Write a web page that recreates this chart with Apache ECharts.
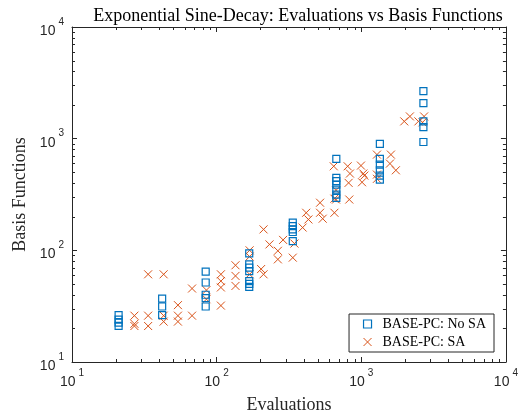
<!DOCTYPE html>
<html>
<head>
<meta charset="utf-8">
<script src="https://cdn.jsdelivr.net/npm/echarts@6/dist/echarts.min.js"></script>
<style>
html, body { margin: 0; padding: 0; background: #fff; }
#chart { width: 521px; height: 419px; }
</style>
</head>
<body>
<div id="chart"></div>
<script>
// evaluations vs basis functions
const noSaPoints = [
    [21, 26.3], [21, 24], [21, 22.5], [21, 21.1],
    [42, 37], [42, 31.4], [42, 26.3],
    [84, 64.5], [84, 51.5], [84, 40], [84, 37.3], [84, 31.4],
    [168, 94], [168, 75], [168, 70], [168, 65], [168, 53], [168, 50], [168, 47],
    [336, 177], [336, 165], [336, 154], [336, 146], [336, 121],
    [672, 660], [672, 446], [672, 416], [672, 388], [672, 350], [672, 316], [672, 295],
    [1344, 897], [1344, 659], [1344, 586], [1344, 521], [1344, 467], [1344, 430],
    [2688, 2667], [2688, 2083], [2688, 1428], [2688, 1271], [2688, 934]
];
const saPoints = [
    [27, 26], [27, 22], [27, 21],
    [33.6, 61], [33.6, 26], [33.6, 21],
    [43, 61], [43, 26], [43, 23],
    [54, 32.3], [54, 26], [54, 23],
    [67.6, 45.5], [67.6, 26],
    [85, 44], [85, 36.5],
    [107, 61], [107, 53], [107, 46.5], [107, 32],
    [135, 73.5], [135, 59], [135, 48],
    [169, 100], [169, 88], [169, 61],
    [203, 68], [211, 61], [211, 154],
    [232, 113], [265, 99], [265, 83], [288, 124],
    [336, 86], [345, 115],
    [393, 160], [416, 217], [431, 189],
    [519, 267], [519, 217], [541, 192],
    [652, 217], [652, 290], [645, 566], [669, 345], [669, 285],
    [805, 566], [835, 487], [817, 402], [826, 285],
    [995, 574], [1033, 487], [1050, 467], [1012, 407],
    [1283, 720], [1283, 477], [1283, 437],
    [1603, 720], [1578, 598], [1734, 521],
    [1982, 1428], [2168, 1582], [2483, 1428], [2718, 1582], [2650, 1400]
];
const seriesNames = ['BASE-PC: No SA', 'BASE-PC: SA'];
const axisRange = [10, 10000];

const axisColor = '#262626';
const blue = '#0072BD';
const orange = '#D95319';
const crossPath = 'path://M0,0L10,10M10,0L0,10';
const squarePath = 'path://M0,0L10,0L10,10L0,10Z';

const chart = echarts.init(document.getElementById('chart'));

function powLabel(value) {
    return '{b|10}{s|' + Math.round(Math.log10(value)) + '}';
}
const labelRich = {
    b: { fontSize: 14, fontFamily: 'Liberation Sans', color: axisColor, lineHeight: 22, verticalAlign: 'bottom' },
    s: { fontSize: 10, fontFamily: 'Liberation Sans', color: axisColor, verticalAlign: 'top', padding: [1, 0, 0, 3] }
};

function logAxis(position, showLabel, extra) {
    return Object.assign({
        type: 'log',
        logBase: 10,
        min: axisRange[0],
        max: axisRange[1],
        position: position,
        axisLine: { show: true, onZero: false, lineStyle: { color: axisColor, width: 1 } },
        axisTick: { show: true, inside: true, length: 5, lineStyle: { color: axisColor } },
        axisLabel: { show: showLabel, formatter: powLabel, rich: labelRich },
        splitLine: { show: false },
        minorTick: { show: false }
    }, extra || {});
}

chart.setOption({
    animation: false,
    backgroundColor: '#fff',
    title: {
        text: 'Exponential Sine-Decay: Evaluations vs Basis Functions',
        left: 293,
        textAlign: 'center',
        top: 2,
        textStyle: { fontFamily: 'Liberation Serif', fontSize: 18, fontWeight: 'normal', color: '#000' }
    },
    grid: { left: 72, right: 14, top: 27, bottom: 56 },
    xAxis: [
        logAxis('bottom', true, {
            name: 'Evaluations',
            nameLocation: 'middle',
            nameGap: 34,
            nameTextStyle: { fontFamily: 'Liberation Serif', fontSize: 18, color: axisColor },
            axisLabel: { show: true, formatter: powLabel, rich: labelRich, margin: 5 }
        }),
        logAxis('top', false)
    ],
    yAxis: [
        logAxis('left', true, {
            name: 'Basis Functions',
            nameLocation: 'middle',
            nameGap: 43,
            nameTextStyle: { fontFamily: 'Liberation Serif', fontSize: 18, color: axisColor },
            axisLabel: { show: true, formatter: powLabel, rich: labelRich, margin: 8 }
        }),
        logAxis('right', false)
    ],
    legend: {
        orient: 'vertical',
        right: 27,
        top: 314,
        backgroundColor: '#fff',
        borderColor: axisColor,
        borderWidth: 1,
        padding: [3, 8, 3, 12],
        itemGap: 4,
        itemWidth: 20,
        itemHeight: 8,
        symbolKeepAspect: true,
        textStyle: { fontFamily: 'Liberation Serif', fontSize: 14, color: '#000' },
        data: [
            { name: seriesNames[0], icon: squarePath, itemStyle: { color: 'none', borderColor: blue, borderWidth: 1.2 } },
            { name: seriesNames[1], icon: crossPath, itemStyle: { color: 'none', borderColor: orange, borderWidth: 1 } }
        ]
    },
    series: [
        {
            name: seriesNames[0],
            type: 'scatter',
            data: noSaPoints,
            symbol: 'rect',
            symbolSize: 7,
            itemStyle: { color: 'none', borderColor: blue, borderWidth: 1.2, opacity: 1 },
            z: 3
        },
        {
            name: seriesNames[1],
            type: 'scatter',
            data: saPoints,
            symbol: crossPath,
            symbolSize: 8,
            itemStyle: { color: 'none', borderColor: orange, borderWidth: 1, opacity: 1 },
            z: 2
        }
    ]
});

// MATLAB style minor ticks at 2..9 of each decade on all four sides
function drawMinorTicks() {
    const lines = [];
    const top = chart.convertToPixel({ yAxisIndex: 0 }, axisRange[1]);
    const bottom = chart.convertToPixel({ yAxisIndex: 0 }, axisRange[0]);
    const left = chart.convertToPixel({ xAxisIndex: 0 }, axisRange[0]);
    const right = chart.convertToPixel({ xAxisIndex: 0 }, axisRange[1]);
    const len = 3;
    for (let d = 10; d < axisRange[1]; d *= 10) {
        for (let k = 2; k <= 9; k++) {
            const v = k * d;
            const px = Math.round(chart.convertToPixel({ xAxisIndex: 0 }, v)) + 0.5;
            const py = Math.round(chart.convertToPixel({ yAxisIndex: 0 }, v)) + 0.5;
            lines.push({ x1: px, y1: bottom, x2: px, y2: bottom - len });
            lines.push({ x1: px, y1: top, x2: px, y2: top + len });
            lines.push({ x1: left, y1: py, x2: left + len, y2: py });
            lines.push({ x1: right, y1: py, x2: right - len, y2: py });
        }
    }
    chart.setOption({
        graphic: lines.map(s => ({
            type: 'line',
            silent: true,
            z: 10,
            shape: s,
            style: { stroke: axisColor, lineWidth: 1 }
        }))
    });
}
drawMinorTicks();
</script>
</body>
</html>
